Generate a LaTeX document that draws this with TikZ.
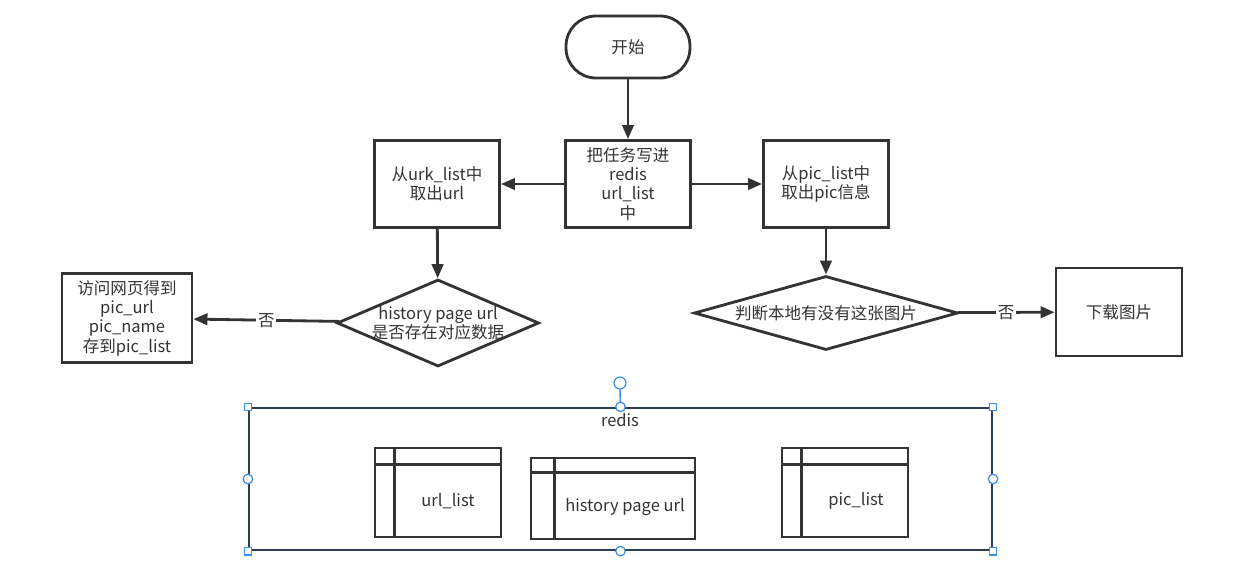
\documentclass[tikz,border=0pt]{standalone}
\usepackage{fontspec}
\newfontfamily\cjk{Noto Sans CJK SC}
\usetikzlibrary{shapes.geometric,arrows.meta}
\definecolor{ink}{HTML}{333333}
\definecolor{frame}{HTML}{2B3E55}
\definecolor{selblue}{HTML}{3D8EEB}
\begin{document}
\begin{tikzpicture}[x=0.02cm,y=-0.02cm,
  font=\cjk\fontsize{9.4}{11}\selectfont,
  txt/.style={text=ink,align=center,inner sep=0pt},
  box/.style={draw=ink,line width=1.6pt,txt,minimum width=2.5cm,minimum height=1.74cm},
  term/.style={box,rounded corners=0.6cm,minimum width=2.48cm,minimum height=1.24cm},
  decision/.style={draw=ink,line width=1.6pt,diamond,inner sep=0pt},
  tbl/.style={draw=ink,line width=1.6pt,minimum width=2.52cm,minimum height=1.78cm},
  tblline/.style={draw=ink,line width=1.6pt},
  flow/.style={draw=ink,line width=1.6pt,-{Triangle[length=8pt,width=6.5pt]}},
  nolabel/.style={txt,fill=white,inner sep=1pt},
  sel/.style={draw=selblue,fill=white,line width=0.7pt,inner sep=0pt}]
\useasboundingbox (0,0) rectangle (1245,562);

\node[term] (start) at (628,47) {开始};
\node[box] (write) at (628,184) {把任务写进\\redis\\url\_list\\中};
\node[box] (urlget) at (437,184) {从urk\_list中\\取出url};
\node[box] (picget) at (826,184) {从pic\_list中\\取出pic信息};
\node[decision,minimum width=4.04cm,minimum height=1.74cm] (hist) at (438,323) {};
\node[txt] (histtxt) at (hist) {history page url\\是否存在对应数据};
\node[decision,minimum width=5.28cm,minimum height=1.48cm] (local) at (826,313) {};
\node[txt] (localtxt) at (local) {判断本地有没有这张图片};
\node[box,minimum width=2.6cm,minimum height=1.78cm] (visit) at (127,318) {访问网页得到\\pic\_url\\pic\_name\\存到pic\_list};
\node[box,minimum width=2.52cm,minimum height=1.76cm] (download) at (1119,312) {下载图片};

\draw[flow] (start) -- (write);
\draw[flow] (write) -- (urlget);
\draw[flow] (write) -- (picget);
\draw[flow] (urlget) -- (hist);
\draw[flow] (picget) -- (local);
\draw[flow] (hist) -- node[nolabel] {否} (visit);
\draw[flow] (local) -- node[nolabel] {否} (download);

\node[draw=frame,line width=1.3pt,minimum width=14.86cm,minimum height=2.84cm] (redis) at (620.5,479) {};
\node[txt] (redistxt) at (620,420) {redis};

\node[tbl] (urltbl) at (438,492.5) {};
\draw[tblline] ([xshift=0.42cm]urltbl.north west) -- ([xshift=0.42cm]urltbl.south west);
\draw[tblline] ([yshift=-0.36cm]urltbl.north west) -- ([yshift=-0.36cm]urltbl.north east);
\node[txt] (urltbltxt) at (448,501) {url\_list};

\node[tbl,minimum width=3.28cm,minimum height=1.62cm] (histtbl) at (613,498.5) {};
\draw[tblline] ([xshift=0.5cm]histtbl.north west) -- ([xshift=0.5cm]histtbl.south west);
\draw[tblline] ([yshift=-0.32cm]histtbl.north west) -- ([yshift=-0.32cm]histtbl.north east);
\node[txt] (histtbltxt) at (625,507) {history page url};

\node[tbl] (pictbl) at (845,492.5) {};
\draw[tblline] ([xshift=0.42cm]pictbl.north west) -- ([xshift=0.42cm]pictbl.south west);
\draw[tblline] ([yshift=-0.36cm]pictbl.north west) -- ([yshift=-0.36cm]pictbl.north east);
\node[txt] (pictbltxt) at (856,501) {pic\_list};

\node[sel,circle,minimum size=0.24cm] (rot) at (620,383) {};
\draw[selblue,line width=0.9pt] (rot) -- (redis.north);
\foreach \a in {north west,north east,south west,south east}
  \node[sel,minimum size=0.15cm] at (redis.\a) {};
\foreach \a in {north,south,west,east}
  \node[sel,circle,minimum size=0.19cm] at (redis.\a) {};
\end{tikzpicture}
\end{document}
